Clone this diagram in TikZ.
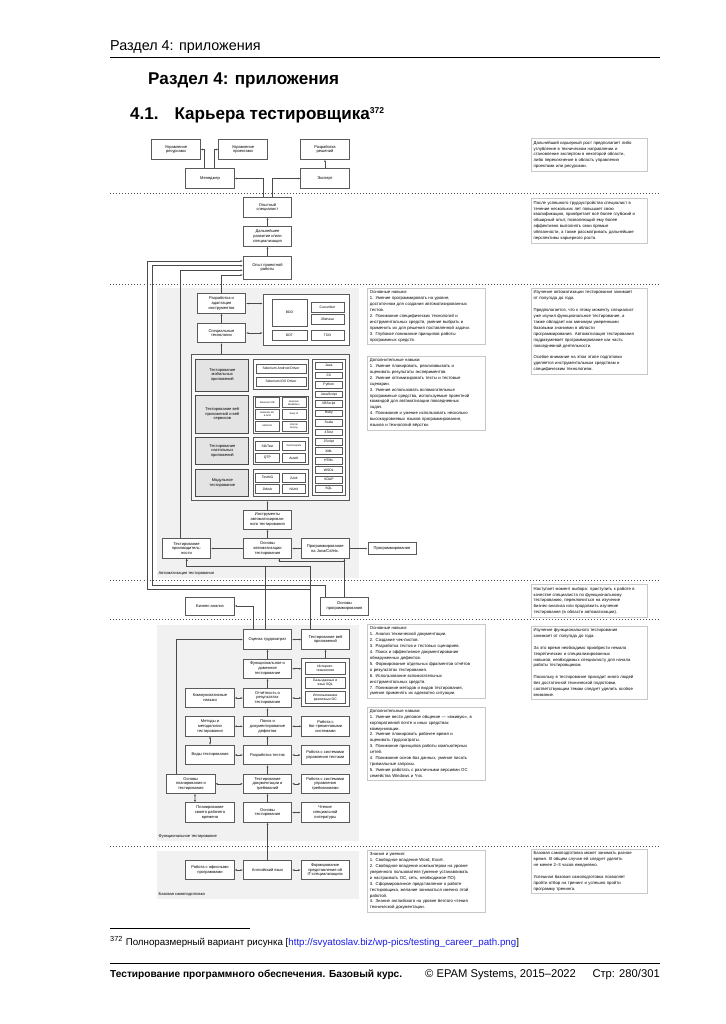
\documentclass[tikz,border=0pt]{standalone}
\usepackage{fontspec}
\setmainfont{Liberation Sans}
\usetikzlibrary{arrows.meta,calc}

\newcommand\pxlen{0.8208pt}
\newcommand\skillfont{\fontsize{3.3}{3.9}\selectfont}
\newcommand\toolfont{\fontsize{2.8}{3.2}\selectfont}
\newcommand\microfont{\fontsize{2.0}{2.4}\selectfont}
\newcommand\notefont{\fontsize{3.5}{4.85}\selectfont}

\definecolor{areagray}{HTML}{F1F1F1}
\definecolor{boxgray}{HTML}{5A5A5A}
\definecolor{linegray}{HTML}{4A4A4A}
\definecolor{notegray}{HTML}{C8C8C8}
\definecolor{catgray}{HTML}{E4E4E4}
\definecolor{linkblue}{HTML}{1A1AE6}

\tikzset{
  sz/.style 2 args={minimum width=#1*\pxlen, minimum height=#2*\pxlen},
  skill/.style={draw=boxgray, fill=white, line width=0.45pt, sz={48.5}{19.5},
    align=center, inner sep=0.3pt, font=\skillfont},
  category/.style={skill, fill=catgray, line width=0.75pt, draw=linegray},
  group/.style={draw=boxgray, fill=white, line width=0.45pt, inner sep=0pt},
  tool/.style={draw=boxgray, fill=white, line width=0.35pt, align=center,
    inner sep=0.2pt, font=\toolfont},
  lang/.style={tool, sz={27.7}{6.7}},
  note/.style={draw=notegray, fill=white, line width=0.4pt, anchor=north west,
    align=left, inner sep=2pt, font=\notefont},
  link/.style={draw=linegray, line width=0.45pt, -{Latex[length=1.9pt,width=1.5pt]}},
  link2/.style={link, {Latex[length=1.9pt,width=1.5pt]}-{Latex[length=1.9pt,width=1.5pt]}},
  stage/.style={dotted, line width=0.5pt, draw=black!70},
  arealabel/.style={anchor=west, inner sep=0pt, font=\skillfont}
}

\begin{document}
\begin{tikzpicture}[x=\pxlen, y=-\pxlen]
\useasboundingbox (0,0) rectangle (725,1024);

% колонтитул
\node[anchor=west, inner sep=0pt, font=\fontsize{11.8}{13}\selectfont] (hdr) at (110,47) {Раздел 4: приложения};
\draw[line width=0.5pt] (110,57.5) -- (660,57.5);
\node[anchor=west, inner sep=0pt, font=\fontsize{14}{16}\selectfont\bfseries] (sect) at (148,80) {Раздел 4: приложения};
\node[anchor=west, inner sep=0pt, font=\fontsize{14}{16}\selectfont\bfseries] (subsect) at (130,115) {4.1.\hspace{13pt}Карьера тестировщика\textsuperscript{\fontsize{7}{8}\selectfont 372}};

% фоновые области
\fill[areagray] (157,288) rectangle (359,578);
\fill[areagray] (157,625) rectangle (359,841);
\fill[areagray] (157,851) rectangle (359,899);

% границы этапов
\foreach \ly in {193,284,580,619.5,846}
  \draw[stage] (110,\ly) -- (660,\ly);

% верхний уровень
\node[skill] (res) at (176,149.5) {Управление\\ресурсами};
\node[skill] (prj) at (243,149.5) {Управление\\проектами};
\node[skill] (sol) at (325,149.5) {Разработка\\решений};
\node[skill] (mgr) at (210,178.5) {Менеджер};
\node[skill] (exp) at (325,178.5) {Эксперт};
\node[skill] (senior) at (267.5,207.5) {Опытный\\специалист};
\node[skill] (growth) at (267.5,236.5) {Дальнейшее\\развитие и/или\\специализация};
\node[skill, sz={48.5}{23}] (project) at (267.5,267.5) {Опыт проектной\\работы};

\draw[link] ($(mgr.north)+(-6,0)$) |- (res.east);
\draw[link] ($(mgr.north)+(4,0)$) |- (prj.west);
\draw[link] (exp) -- (sol);
\draw[link] ($(senior.north)+(-4.5,0)$) |- (mgr.east);
\draw[link] ($(senior.north)+(5,0)$) |- (exp.west);
\draw[link] (growth) -- (senior);
\draw[link] (project) -- (growth);

% автоматизация тестирования
\node[skill] (tooldev) at (221.5,303.5) {Разработка и\\адаптация\\инструментов};
\node[skill] (spec) at (221.5,333) {Специальные\\технологии};
\node[group, sz={86}{51}] (bddgrp) at (306,319.5) {};
\node[tool, sz={35}{27}] (bdd) at (289.5,312.5) {BDD};
\node[tool, sz={33}{10}] (cucumber) at (327.5,307) {Cucumber};
\node[tool, sz={33}{10}] (jbehave) at (327.5,319) {JBehave};
\node[tool, sz={35}{10}] (ddt) at (289.5,335) {DDT};
\node[tool, sz={33}{10}] (tdd) at (327.5,335) {TDD};

\node[group, fill=white!60!areagray, sz={158}{146.7}] (autobox) at (270,427.3) {};
\node[category, sz={53.3}{32}] (mobile) at (222.3,375) {Тестирование\\мобильных\\приложений};
\node[category, sz={53.3}{38}] (web) at (222.3,414) {Тестирование веб\\приложений и веб\\сервисов};
\node[category, sz={53.3}{27}] (desktop) at (222.3,450.8) {Тестирование\\настольных\\приложений};
\node[category, sz={53.3}{27.4}] (unit) at (222.3,483) {Модульное\\тестирование};

\node[group, sz={55}{30}] (mobgrp) at (280.5,374) {};
\node[tool, sz={50.3}{9}] (sad) at (281,368.5) {Selenium Android Driver};
\node[tool, sz={50.3}{9}] (sios) at (281,381.5) {Selenium iOS Driver};

\node[group, sz={55}{37}] (webgrp) at (280.5,414.5) {};
\node[tool, sz={24.3}{10}, font=\microfont] (selide) at (267.2,402.7) {Selenium IDE};
\node[tool, sz={24.3}{10}, font=\microfont] (selwd) at (293.9,402.7) {Selenium\\WebDriver};
\node[tool, sz={24.3}{10}, font=\microfont] (selrc) at (267.2,414.3) {Selenium RC\\\& Grid};
\node[tool, sz={24.3}{10}, font=\microfont] (soapui) at (293.9,414.3) {Soap UI};
\node[tool, sz={24.3}{10}, font=\microfont] (htmlunit) at (267.2,426) {HtmlUnit};
\node[tool, sz={24.3}{10}, font=\microfont] (jemmy) at (293.9,426) {JUnit \&\\Jemmy};

\node[group, sz={55}{27}] (deskgrp) at (280.5,450.8) {};
\node[tool, sz={23.6}{9.4}] (silk) at (267.5,445.8) {SilkTest};
\node[tool, sz={23.6}{9.4}, font=\microfont] (tcomp) at (293.8,445.8) {TestComplete};
\node[tool, sz={23.6}{9.4}] (qtp) at (267.5,458) {QTP};
\node[tool, sz={23.6}{9.4}] (autoit) at (293.8,458) {AutoIt};

\node[group, sz={55}{27.4}] (unitgrp) at (280.5,483) {};
\node[tool, sz={23.6}{9.4}] (testng) at (267.5,477.8) {TestNG};
\node[tool, sz={23.6}{9.4}] (junit) at (293.8,477.8) {JUnit};
\node[tool, sz={23.6}{9.4}] (jmock) at (267.5,488.8) {JMock};
\node[tool, sz={23.6}{9.4}] (nunit) at (293.8,488.8) {NUnit};

\node[group, sz={32.3}{136}] (langgrp) at (328.8,427) {};
\foreach \lname [count=\li from 0] in {Java,C\#,Python,JavaScript,VBScript,Ruby,Scala,4Test,JScript,XML,HTML,WSDL,SOAP,SQL}
  \node[lang] (lang\li) at (328.8,365.7+9.48*\li) {\lname};

\node[skill] (tools) at (267.5,519.7) {Инструменты\\автоматизирован-\\ного тестирования};
\node[skill] (autobasics) at (267.5,548.5) {Основы\\автоматизации\\тестирования};
\node[skill] (perf) at (186.5,548.5) {Тестирование\\производитель-\\ности};
\node[skill] (progjava) at (325.2,548.5) {Программирование\\на Java/C\#/etc.};
\node[skill, sz={48.3}{12.3}] (prog) at (392,548.5) {Программирование};
\node[arealabel] (autolabel) at (158.5,573.3) {Автоматизация тестирования};

\draw[link] (spec) -- (tooldev);
\draw[link2] (tooldev.east) -- (tooldev.east -| bddgrp.west);
\draw[link2] (spec.east) -- (spec.east -| bddgrp.west);
\draw[link] (spec |- autobox.north) -- (spec.south);
\draw[link] (tools) -- (tools |- autobox.south);
\draw[link] (autobasics) -- (tools);
\draw[link] (autobasics) -- (perf);
\draw[link] (progjava) -- (autobasics);
\draw[link] (progjava) -- (prog);

% выбор направления
\node[skill, sz={48.5}{18.3}] (biz) at (210,606) {Бизнес-анализ};
\node[skill, sz={47.6}{18.3}] (basicprog) at (344.5,606) {Основы\\программирования};

% функциональное тестирование
\node[skill] (estimate) at (267.5,639.5) {Оценка трудозатрат};
\node[skill, sz={47.6}{19.5}] (webtest) at (325.5,639.5) {Тестирование веб\\приложений};
\node[skill] (funcdom) at (267.5,668.7) {Функциональное и\\доменное\\тестирование};
\node[group, sz={47.6}{48.4}] (techgrp) at (325.5,682.5) {};
\node[skill, sz={39.3}{11.7}, font=\toolfont] (inet) at (325.3,668.2) {Интернет-\\технологии};
\node[skill, sz={39.3}{11.7}, font=\toolfont] (db) at (325.3,682.8) {Базы данных и\\язык SQL};
\node[skill, sz={39.3}{11.7}, font=\toolfont] (os) at (325.3,697.5) {Использование\\различных ОС};
\node[skill] (comm) at (210,698) {Коммуникативные\\навыки};
\node[skill] (report) at (267.5,698) {Отчётность о\\результатах\\тестирования};
\node[skill] (methods) at (210,726.3) {Методы и\\методологии\\тестирования};
\node[skill] (defects) at (267.5,726.3) {Поиск и\\документирование\\дефектов};
\node[skill, sz={47.6}{19.5}] (bugtrack) at (325.5,726.3) {Работа с\\баг-трекинговыми\\системами};
\node[skill] (types) at (210,755) {Виды тестирования};
\node[skill] (testdev) at (267.5,755) {Разработка тестов};
\node[skill] (tms) at (325.2,755) {Работа с системами\\управления тестами};
\node[skill] (planning) at (190.8,783.8) {Основы\\планирования и\\тестирования};
\node[skill] (docs) at (267.5,783.8) {Тестирование\\документации и\\требований};
\node[skill] (reqms) at (325.2,783.8) {Работа с системами\\управления\\требованиями};
\node[skill] (timeplan) at (210,812.5) {Планирование\\своего рабочего\\времени};
\node[skill] (basics) at (267.5,812.5) {Основы\\тестирования};
\node[skill] (reading) at (325.2,812.5) {Чтение\\специальной\\литературы};
\node[arealabel] (funclabel) at (158.5,836.7) {Функциональное тестирование};

% базовая самоподготовка
\node[skill] (office) at (210,870) {Работа с офисными\\программами};
\node[skill] (english) at (267.5,870) {Английский язык};
\node[skill] (itspec) at (325.2,870) {Формирование\\представления об\\IT-специализациях};
\node[arealabel] (baselabel) at (158.5,894.3) {Базовая самоподготовка};

\draw[link] (english) -- (basics);
\draw[link2] (office) -- (english);
\draw[link2] (english) -- (itspec);
\draw[link] (basics) -- (docs);
\draw[link] (docs) -- (testdev);
\draw[link] (testdev) -- (defects);
\draw[link] (defects) -- (report);
\draw[link] (report) -- (funcdom);
\draw[link] (funcdom) -- (estimate);
\draw[link2] (basics) -- (reading);
\draw[link2] (planning) -- (docs);
\draw[link2] (docs) -- (reqms);
\draw[link2] (types) -- (testdev);
\draw[link2] (testdev) -- (tms);
\draw[link2] (methods) -- (types);
\draw[link2] (methods) -- (defects);
\draw[link2] (defects) -- (bugtrack);
\draw[link2] (comm) -- (report);
\draw[link2] (report) -- (report -| techgrp.west);
\draw[link2] (funcdom) -- (funcdom -| techgrp.west);
\draw[link] (techgrp) -- (webtest);
\draw[link2] (estimate) -- (webtest);
\draw[link2] ($(planning.south)+(4.2,0)$) -- ($(timeplan.north)+(-15,0)$);
\draw[link] ($(planning.north)+(-14.8,0)$) |- (estimate.west);
\draw[link] ($(estimate.north)+(-14.2,0)$) |- (biz.east);

% переходы между этапами
\draw[link] (basicprog.north) -- (basicprog.north |- progjava.south);
\draw[link] (basicprog.north) |- (279.3,561.7) -- (279.3,558.25);
\draw[link] ($(webtest.north)+(-15.5,0)$) |- (186.7,566.7) -- ($(perf.south)+(0.2,0)$);
\draw[link] ($(estimate.north)+(-2.5,0)$) |- (186.7,566.7) -- ($(perf.south)+(0.2,0)$);
\draw[link] ($(webtest.north)+(-15.5,0)$) |- (147.3,589) |- ($(project.west)+(0,-6.5)$);
\draw[link] ($(basicprog.north)+(-19.5,0)$) |- (152.3,585.7) |- ($(project.west)+(0,-1.8)$);
\draw[link] ($(perf.north)+(-5.8,0)$) |- ($(project.west)+(0,2.8)$);
\draw[link] (tooldev.north) |- ($(project.west)+(0,7.5)$);

% пояснения
\node[note, text width=111.5*\pxlen] (note1) at (531,138.3) {Дальнейший карьерный рост предполагает либо\\углубление в техническом направлении и\\становление экспертом в некоторой области,\\либо переключение в область управления\\проектами или ресурсами.};
\node[note, text width=111.5*\pxlen] (note2) at (531,198.3) {После успешного трудоустройства специалист в\\течение нескольких лет повышает свою\\квалификацию, приобретает всё более глубокий и\\обширный опыт, позволяющий ему более\\эффективно выполнять свои прямые\\обязанности, а также рассматривать дальнейшие\\перспективы карьерного роста.};
\node[note, text width=113*\pxlen] (note3) at (367.3,288.3) {Основные навыки:\\1. Умение программировать на уровне,\\достаточном для создания автоматизированных\\тестов.\\2. Понимание специфических технологий и\\инструментальных средств, умение выбрать и\\применить их для решения поставленной задачи.\\3. Глубокое понимание принципов работы\\программных средств.};
\node[note, text width=113*\pxlen] (note4) at (367.3,356) {Дополнительные навыки:\\1. Умение планировать, реализовывать и\\оценивать результаты экспериментов.\\2. Умение оптимизировать тесты и тестовые\\сценарии.\\3. Умение использовать вспомогательные\\программные средства, используемые проектной\\командой для автоматизации повседневных\\задач.\\4. Понимание и умение использовать несколько\\высокоуровневых языков программирования,\\языков и технологий вёрстки.};
\node[note, text width=111.5*\pxlen] (note5) at (531,288.3) {Изучение автоматизации тестирования занимает\\от полугода до года.\\[4.85pt]Предполагается, что к этому моменту специалист\\уже изучил функциональное тестирование, а\\также обладает как минимум умеренными\\базовыми знаниями в области\\программирования. Автоматизация тестирования\\подразумевает программирование как часть\\повседневной деятельности.\\[4.85pt]Особое внимание на этом этапе подготовки\\уделяется инструментальным средствам и\\специфическим технологиям.};
\node[note, text width=111.5*\pxlen] (note6) at (531,584.3) {Наступает момент выбора: приступить к работе в\\качестве специалиста по функциональному\\тестированию, переключиться на изучение\\бизнес-анализа или продолжить изучение\\тестирования (в области автоматизации).};
\node[note, text width=111.5*\pxlen] (note7) at (531,625.7) {Изучение функционального тестирования\\занимает от полугода до года.\\[4.85pt]За это время необходимо приобрести немало\\теоретических и специализированных\\навыков, необходимых специалисту для начала\\работы тестировщиком.\\[4.85pt]Поскольку в тестирование приходит много людей\\без достаточной технической подготовки,\\соответствующим темам следует уделить особое\\внимание.};
\node[note, text width=113*\pxlen] (note8) at (367.3,624.3) {Основные навыки:\\1. Анализ технической документации.\\2. Создание чек-листов.\\3. Разработка тестов и тестовых сценариев.\\4. Поиск и эффективное документирование\\обнаруженных дефектов.\\5. Формирование отдельных фрагментов отчётов\\о результатах тестирования.\\6. Использование вспомогательных\\инструментальных средств.\\7. Понимание методов и видов тестирования,\\умение применять их адекватно ситуации.};
\node[note, text width=113*\pxlen] (note9) at (367.3,706.7) {Дополнительные навыки:\\1. Умение вести деловое общение — «вживую», в\\корпоративной почте и иных средствах\\коммуникации.\\2. Умение планировать рабочее время и\\оценивать трудозатраты.\\3. Понимание принципов работы компьютерных\\сетей.\\4. Понимание основ баз данных, умение писать\\тривиальные запросы.\\5. Умение работать с различными версиями ОС\\семейства Windows и *nix.};
\node[note, text width=113*\pxlen] (note10) at (367.3,850) {Знания и умения:\\1. Свободное владение Word, Excel.\\2. Свободное владение компьютером на уровне\\уверенного пользователя (умение устанавливать\\и настраивать ОС, сеть, необходимое ПО).\\3. Сформированное представление о работе\\тестировщика, желание заниматься именно этой\\работой.\\4. Знание английского на уровне беглого чтения\\технической документации.};
\node[note, text width=111.5*\pxlen] (note11) at (531,849.3) {Базовая самоподготовка может занимать разное\\время. В общем случае ей следует уделять\\не менее 2–3 часов ежедневно.\\[4.85pt]Успешная базовая самоподготовка позволяет\\пройти отбор на тренинг и успешно пройти\\программу тренинга.};

% сноска и нижний колонтитул
\draw[line width=0.5pt] (110,928) -- (250,928);
\node[anchor=west, inner sep=0pt, font=\fontsize{8}{9}\selectfont] (fn) at (110,942) {\textsuperscript{372} Полноразмерный вариант рисунка [\textcolor{linkblue}{http://svyatoslav.biz/wp-pics/testing\_career\_path.png}]};
\draw[line width=0.5pt] (110,963.5) -- (660,963.5);
\node[anchor=west, inner sep=0pt, font=\fontsize{8.3}{10}\selectfont\bfseries] (ftl) at (110,975) {Тестирование программного обеспечения. Базовый курс.};
\node[anchor=west, inner sep=0pt, font=\fontsize{9.2}{10}\selectfont] (ftc) at (425,975) {© EPAM Systems, 2015–2022};
\node[anchor=east, inner sep=0pt, font=\fontsize{9.2}{10}\selectfont] (ftr) at (660,975) {Стр: 280/301};
\end{tikzpicture}
\end{document}
